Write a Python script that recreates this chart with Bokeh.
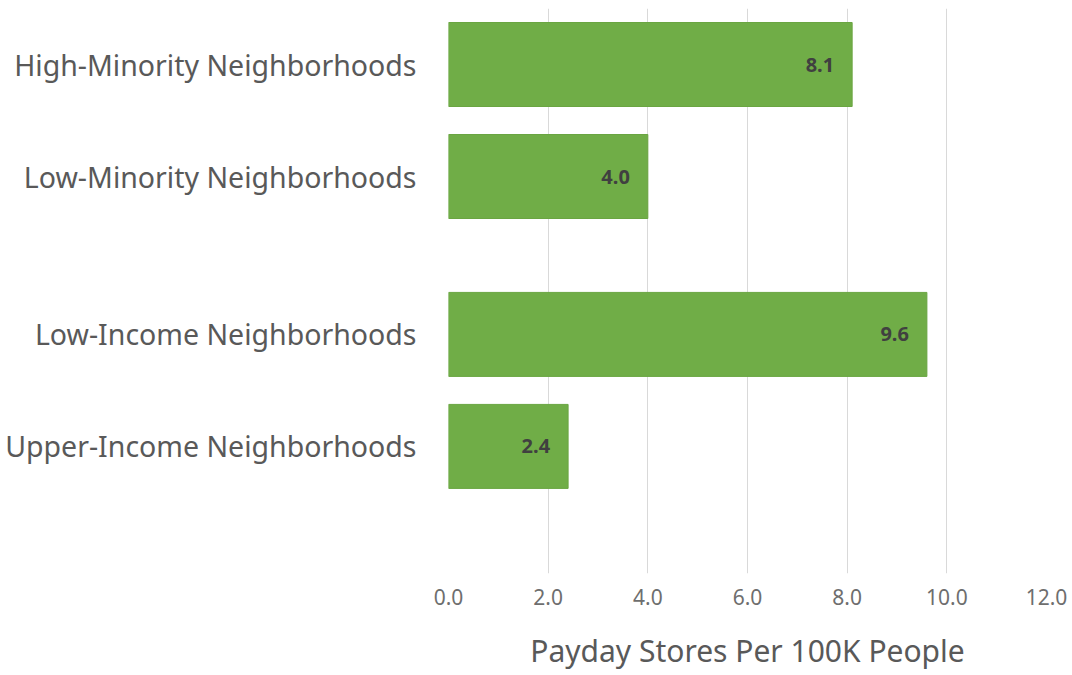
from bokeh.plotting import figure
from bokeh.models import Range1d, FixedTicker, LabelSet, ColumnDataSource, NumeralTickFormatter
from bokeh.core.properties import value
from bokeh.embed import file_html
from bokeh.resources import INLINE

categories = ["High-Minority Neighborhoods", "Low-Minority Neighborhoods",
              "Low-Income Neighborhoods", "Upper-Income Neighborhoods"]
values = [8.1, 4.0, 9.6, 2.4]
x_ticks = [0, 2, 4, 6, 8, 10, 12]
axis_title = "Payday Stores Per 100K People"

GAP = 0.41
ypos = [i + 0.5 + (GAP if i >= 2 else 0) for i in range(len(categories))]
labels = [f"{v:.1f}" for v in values]

src = ColumnDataSource(dict(y=ypos, v=values, lab=labels))

FONT = "Noto Sans"
p = figure(width=1072, height=675, output_backend="svg", toolbar_location=None,
           x_range=Range1d(0, 12), y_range=Range1d(565 / 112, 0),
           min_border_left=448, min_border_right=26, min_border_top=8, min_border_bottom=102)
p.outline_line_color = None
p.background_fill_color = "white"

p.hbar(y="y", right="v", left=0, height=0.75, source=src,
       fill_color="#70AD47", line_color="#6AA542", line_width=1)

p.add_layout(LabelSet(x="v", y="y", text="lab", source=src, x_offset=-18,
                      text_align="right", text_baseline="middle",
                      text_font=value(FONT), text_font_size=value("20px"),
                      text_font_style="bold", text_color="#404040"))

xa = p.xaxis[0]
xa.ticker = FixedTicker(ticks=x_ticks)
xa.formatter = NumeralTickFormatter(format="0.0")
xa.axis_line_color = None
xa.major_tick_line_color = None
xa.minor_tick_line_color = None
xa.major_tick_out = 0
xa.major_label_standoff = 15
xa.major_label_text_font = FONT
xa.major_label_text_font_size = "21px"
xa.major_label_text_color = "#6E6E6E"
xa.axis_label = axis_title
xa.axis_label_text_font = FONT
xa.axis_label_text_font_size = "30px"
xa.axis_label_text_font_style = "normal"
xa.axis_label_text_color = "#595959"
xa.axis_label_standoff = 22

ya = p.yaxis[0]
ya.ticker = FixedTicker(ticks=ypos)
ya.major_label_overrides = {y: c for y, c in zip(ypos, categories)}
ya.axis_line_color = None
ya.major_tick_line_color = None
ya.minor_tick_line_color = None
ya.major_tick_out = 0
ya.major_label_standoff = 32
ya.major_label_text_font = FONT
ya.major_label_text_font_size = "28.5px"
ya.major_label_text_color = "#595959"

p.xgrid.ticker = FixedTicker(ticks=x_ticks)
p.xgrid.grid_line_color = "#D9D9D9"
p.xgrid.grid_line_width = 1
p.ygrid.grid_line_color = None

open("out.html", "w").write(file_html(p, INLINE))
